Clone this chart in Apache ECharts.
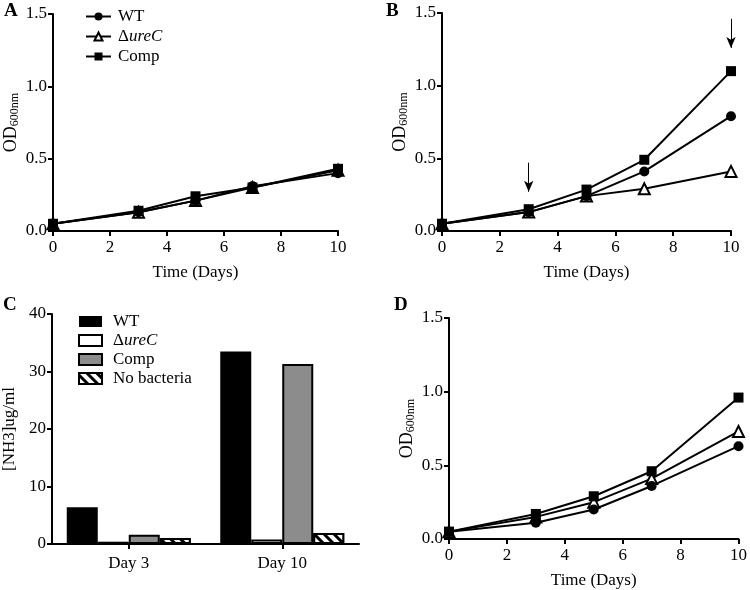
<!DOCTYPE html>
<html><head><meta charset="utf-8">
<script src="https://cdn.jsdelivr.net/npm/echarts@6/dist/echarts.min.js"></script>
<style>html,body{margin:0;padding:0;background:#fff}#c{width:750px;height:590px}</style>
</head><body><div id="c"></div>
<script>
// ---- data ----
const days = [0, 3, 5, 7, 10];
const aWT   = [0.05, 0.13, 0.21, 0.31, 0.40];
const aDel  = [0.05, 0.13, 0.21, 0.30, 0.42];
const aComp = [0.05, 0.14, 0.24, 0.30, 0.43];
const bWT   = [0.05, 0.13, 0.24, 0.41, 0.79];
const bDel  = [0.05, 0.13, 0.24, 0.29, 0.41];
const bComp = [0.05, 0.15, 0.285, 0.49, 1.10];
const dWT   = [0.05, 0.11, 0.20, 0.36, 0.63];
const dDel  = [0.05, 0.15, 0.25, 0.41, 0.73];
const dComp = [0.05, 0.17, 0.29, 0.46, 0.96];
const cCats = ['Day 3', 'Day 10'];
const cWT   = [6.4, 33.5];
const cDel  = [0.4, 0.8];
const cComp = [1.6, 31.3];
const cNone = [1.05, 1.9];
const bArrows = [[3, 0.47, 0.27], [10, 1.46, 1.26]];
const odTicks = ['0.0', '0.5', '1.0', '1.5'];

const FONT = 'Liberation Serif';
const FS = 17;
const pairs = ys => days.map((d, i) => [d, ys[i]]);

const grids = [
  {left: 51, top: 14, width: 287, height: 217},
  {left: 442, top: 13, width: 289, height: 218},
  {left: 52, top: 314, width: 307, height: 230},
  {left: 449, top: 318, width: 294, height: 221}
];

const axisCommon = {
  axisLine: {show: true, lineStyle: {color: '#000', width: 2}},
  axisTick: {show: true, length: 5, lineStyle: {color: '#000', width: 2}},
  splitLine: {show: false},
  axisLabel: {color: '#000', fontFamily: FONT, fontSize: FS}
};
const odName = '{a|OD}{b|600nm}';
const odNameStyle = {color: '#000', fontFamily: FONT,
  rich: {a: {fontSize: 18, fontFamily: FONT, color: '#000', verticalAlign: 'top', lineHeight: 19},
         b: {fontSize: 12, fontFamily: FONT, color: '#000', verticalAlign: 'bottom', lineHeight: 13, padding: [8, 0, 0, 0]}}};

function xTime(gi) {
  return Object.assign({}, axisCommon, {
    type: 'value', gridIndex: gi, min: 0, max: 10, interval: 2,
    name: 'Time (Days)', nameLocation: 'middle', nameGap: 33,
    nameTextStyle: {color: '#000', fontFamily: FONT, fontSize: FS},
    axisLabel: Object.assign({}, axisCommon.axisLabel, {margin: 8})
  });
}
function yOD(gi) {
  return Object.assign({}, axisCommon, {
    type: 'value', gridIndex: gi, min: 0, max: 1.5, interval: 0.5,
    name: odName, nameLocation: 'middle', nameGap: 32, nameRotate: 90,
    nameTextStyle: odNameStyle,
    axisLabel: Object.assign({}, axisCommon.axisLabel, {margin: 6,
      formatter: v => odTicks[Math.round(v / 0.5)]})
  });
}

function lineSeries(name, data, gi, sym) {
  const hollow = sym === 'triangle';
  return {
    type: 'line', name: name, xAxisIndex: gi, yAxisIndex: gi,
    data: pairs(data), symbol: sym, symbolSize: sym === 'triangle' ? 11 : 10,
    lineStyle: {color: '#000', width: 2},
    itemStyle: {color: hollow ? '#fff' : '#000', borderColor: '#000', borderWidth: hollow ? 2 : 0},
    z: hollow ? 2 : 3, animation: false
  };
}

const series = [];
[[aWT, aDel, aComp, 0], [bWT, bDel, bComp, 1], [dWT, dDel, dComp, 3]].forEach(([w, d, c, gi]) => {
  series.push(lineSeries('WT', w, gi, 'circle'));
  series.push(lineSeries('ΔureC', d, gi, 'triangle'));
  series.push(lineSeries('Comp', c, gi, 'rect'));
});
// arrows in B
series.push({
  type: 'line', xAxisIndex: 1, yAxisIndex: 1, data: [], silent: true,
  markLine: {
    silent: true, animation: false,
    symbol: ['none', 'arrow'], symbolSize: [7, 11],
    label: {show: false},
    lineStyle: {color: '#000', width: 1, type: 'solid'},
    data: bArrows.map(a => [{coord: [a[0], a[1]]}, {coord: [a[0], a[2]]}])
  }
});

const barBase = {type: 'bar', xAxisIndex: 2, yAxisIndex: 2, barWidth: 31, barGap: '0%', animation: false};
series.push(Object.assign({}, barBase, {name: 'c_WT', data: cWT,
  itemStyle: {color: '#000', borderColor: '#000', borderWidth: 0}}));
series.push(Object.assign({}, barBase, {name: 'c_ΔureC', data: cDel,
  itemStyle: {color: '#fff', borderColor: '#000', borderWidth: 2}}));
series.push(Object.assign({}, barBase, {name: 'c_Comp', data: cComp,
  itemStyle: {color: '#8c8c8c', borderColor: '#000', borderWidth: 2}}));
series.push(Object.assign({}, barBase, {name: 'c_No bacteria', data: cNone,
  itemStyle: {color: '#fff', borderColor: '#000', borderWidth: 2,
    decal: {symbol: 'rect', symbolSize: 1, dashArrayX: [1, 0], dashArrayY: [3, 4],
      rotation: Math.PI / 4, color: '#000', backgroundColor: '#fff'}}}));

const legendRich = {
  n: {fontFamily: FONT, fontSize: FS, color: '#000'},
  i: {fontFamily: FONT, fontSize: FS, color: '#000', fontStyle: 'italic'}
};
function legendFmt(name) {
  const s = name.replace(/^c_/, '');
  if (s === 'ΔureC') return '{n|Δ}{i|ureC}';
  return '{n|' + s + '}';
}

const option = {
  animation: false,
  backgroundColor: '#fff',
  grid: grids.map(g => Object.assign({containLabel: false}, g)),
  xAxis: [xTime(0), xTime(1),
    Object.assign({}, axisCommon, {type: 'category', gridIndex: 2, data: cCats,
      axisTick: {show: true, alignWithLabel: true, length: 5, lineStyle: {color: '#000', width: 2}},
      axisLabel: Object.assign({}, axisCommon.axisLabel, {margin: 11})}),
    xTime(3)],
  yAxis: [yOD(0), yOD(1),
    Object.assign({}, axisCommon, {type: 'value', gridIndex: 2, min: 0, max: 40, interval: 10,
      name: '[NH3]ug/ml', nameLocation: 'middle', nameGap: 34, nameRotate: 90,
      nameTextStyle: {color: '#000', fontFamily: FONT, fontSize: FS},
      axisLabel: Object.assign({}, axisCommon.axisLabel, {margin: 6})}),
    yOD(3)],
  legend: [
    {data: ['WT', 'ΔureC', 'Comp'], orient: 'vertical', left: 80, top: 3,
      itemWidth: 25, itemHeight: 10, itemGap: 3, selectedMode: false,
      formatter: legendFmt,
      textStyle: {rich: legendRich, fontFamily: FONT, fontSize: FS, color: '#000', padding: [0, 0, 0, 2]}},
    {data: ['c_WT', 'c_ΔureC', 'c_Comp', 'c_No bacteria'], orient: 'vertical', left: 73, top: 308,
      itemWidth: 23, itemHeight: 11, itemGap: 2, selectedMode: false, icon: 'rect',
      formatter: legendFmt,
      textStyle: {rich: legendRich, fontFamily: FONT, fontSize: FS, color: '#000', padding: [0, 0, 0, 6]}}
  ],
  graphic: [
    {type: 'text', left: 4, top: 2, style: {text: 'A', font: 'bold 19px "Liberation Serif"', fill: '#000'}},
    {type: 'text', left: 386, top: 2, style: {text: 'B', font: 'bold 19px "Liberation Serif"', fill: '#000'}},
    {type: 'text', left: 3, top: 296, style: {text: 'C', font: 'bold 19px "Liberation Serif"', fill: '#000'}},
    {type: 'text', left: 394, top: 296, style: {text: 'D', font: 'bold 19px "Liberation Serif"', fill: '#000'}}
  ],
  series: series
};
const chart = echarts.init(document.getElementById('c'), null, {renderer: 'canvas'});
chart.setOption(option);
</script></body></html>
